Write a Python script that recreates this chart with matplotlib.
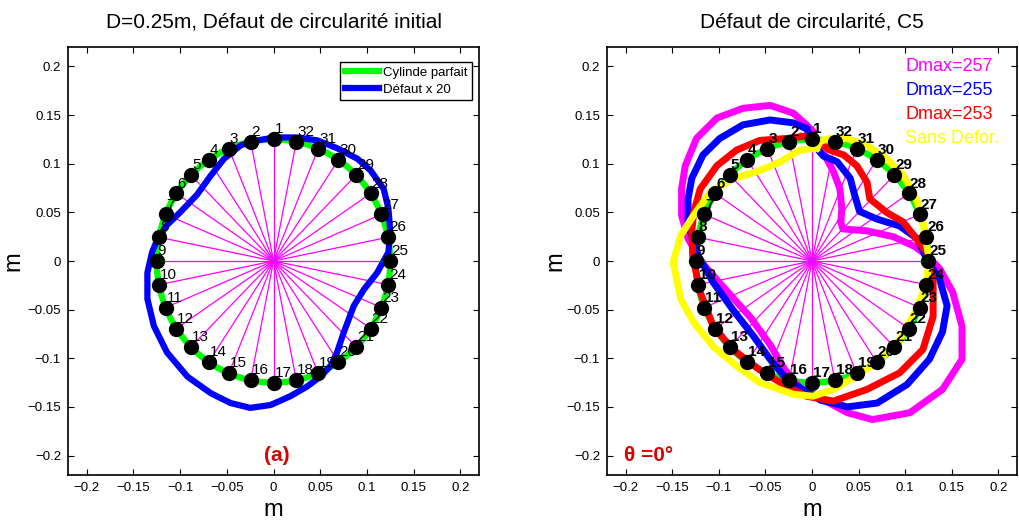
import matplotlib
matplotlib.use("Agg")
import matplotlib.pyplot as plt
import numpy as np

plt.rcParams['font.family'] = ['Liberation Sans', 'DejaVu Sans']

# -----------------------------
# Data
# -----------------------------
n_points = 32
radius = 0.125
point_labels = [str(i) for i in range(1, n_points + 1)]

ticks = [-0.2, -0.15, -0.1, -0.05, 0, 0.05, 0.1, 0.15, 0.2]
tick_labels = ['\u22120.2', '\u22120.15', '\u22120.1', '\u22120.05', '0',
               '0.05', '0.1', '0.15', '0.2']

# initial circularity defect (x 20)
defect_x = [0.001, 0.025, 0.047, 0.068, 0.090, 0.104, 0.118, 0.123, 0.125, 0.123,
            0.111, 0.097, 0.086, 0.075, 0.068, 0.061, 0.050, 0.036, 0.018, -0.003,
            -0.025, -0.046, -0.067, -0.092, -0.114, -0.128, -0.135, -0.135, -0.130,
            -0.124, -0.114, -0.100, -0.082, -0.067, -0.053, -0.035, -0.017]
defect_y = [0.127, 0.127, 0.124, 0.116, 0.105, 0.093, 0.074, 0.054, 0.030, 0.009,
            -0.012, -0.029, -0.046, -0.074, -0.094, -0.108, -0.119, -0.129, -0.139,
            -0.148, -0.151, -0.146, -0.136, -0.119, -0.094, -0.067, -0.039, -0.012,
            0.009, 0.023, 0.037, 0.050, 0.068, 0.088, 0.105, 0.119, 0.124]

# C5 deformed shapes
d257_x = [0.000, -0.006, -0.020, -0.045, -0.074, -0.102, -0.124, -0.136, -0.140, -0.140,
          -0.133, -0.117, -0.093, -0.066, -0.045, -0.029, -0.013, 0.005, 0.038, 0.065,
          0.105, 0.140, 0.161, 0.161, 0.151, 0.137, 0.123, 0.110, 0.087, 0.059,
          0.033, 0.031, 0.032, 0.030, 0.023, 0.014, 0.005]
d257_y = [0.134, 0.140, 0.152, 0.160, 0.157, 0.147, 0.126, 0.098, 0.074, 0.047,
          0.023, -0.003, -0.029, -0.058, -0.086, -0.112, -0.130, -0.139, -0.156, -0.163,
          -0.156, -0.132, -0.101, -0.067, -0.032, -0.008, 0.006, 0.015, 0.025, 0.031,
          0.033, 0.040, 0.054, 0.074, 0.092, 0.108, 0.123]

d255_x = [-0.006, -0.020, -0.045, -0.074, -0.099, -0.117, -0.129, -0.133, -0.133, -0.122,
          -0.106, -0.085, -0.063, -0.045, -0.027, -0.010, 0.009, 0.038, 0.070, 0.102,
          0.126, 0.140, 0.145, 0.137, 0.123, 0.113, 0.094, 0.070, 0.051, 0.046,
          0.041, 0.027, 0.012, 0.005]
d255_y = [0.136, 0.142, 0.145, 0.140, 0.126, 0.109, 0.085, 0.064, 0.038, 0.005,
          -0.022, -0.050, -0.077, -0.101, -0.122, -0.132, -0.143, -0.150, -0.146, -0.127,
          -0.101, -0.073, -0.046, -0.019, 0.002, 0.023, 0.036, 0.043, 0.051, 0.067,
          0.085, 0.102, 0.108, 0.116]

d253_x = [-0.010, -0.027, -0.056, -0.081, -0.102, -0.120, -0.127, -0.129, -0.128, -0.120,
          -0.106, -0.085, -0.056, -0.027, -0.006, 0.023, 0.059, 0.094, 0.119, 0.130,
          0.130, 0.126, 0.123, 0.112, 0.098, 0.080, 0.062, 0.059, 0.048, 0.034,
          0.019, 0.012, 0.001]
d253_y = [0.128, 0.126, 0.124, 0.114, 0.098, 0.074, 0.050, 0.030, 0.005, -0.032,
          -0.067, -0.091, -0.112, -0.129, -0.139, -0.144, -0.132, -0.115, -0.091, -0.057,
          -0.022, -0.001, 0.009, 0.023, 0.040, 0.050, 0.064, 0.081, 0.098, 0.109,
          0.114, 0.119, 0.126]

sans_x = [0.005, -0.013, -0.034, -0.059, -0.084, -0.109, -0.127, -0.141, -0.149, -0.141,
          -0.127, -0.106, -0.081, -0.056, -0.020, 0.001, 0.023, 0.048, 0.073, 0.094,
          0.112, 0.123, 0.126, 0.123, 0.119, 0.112, 0.098, 0.080, 0.059, 0.037,
          0.019, 0.009]
sans_y = [0.116, 0.114, 0.102, 0.092, 0.085, 0.071, 0.047, 0.026, -0.001, -0.039,
          -0.063, -0.088, -0.108, -0.125, -0.137, -0.139, -0.132, -0.118, -0.101, -0.081,
          -0.050, -0.022, 0.002, 0.016, 0.040, 0.064, 0.088, 0.105, 0.119, 0.126,
          0.126, 0.123]

right_curves = [
    (d257_x, d257_y, '#ff00ff', 'Dmax=257'),
    (d255_x, d255_y, '#0000ff', 'Dmax=255'),
    (d253_x, d253_y, '#ff0000', 'Dmax=253'),
    (sans_x, sans_y, '#ffff00', 'Sans Defor.'),
]

# -----------------------------
# Figure
# -----------------------------
W, H = 1019, 529
fig = plt.figure(figsize=(W / 100, H / 100), dpi=100)
ax1 = fig.add_axes([68 / W, 1 - 475 / H, 411 / W, 428 / H])
ax2 = fig.add_axes([607 / W, 1 - 475 / H, 410 / W, 428 / H])

ang = np.deg2rad(90 + np.arange(n_points) * 360.0 / n_points)
px = radius * np.cos(ang)
py = radius * np.sin(ang)
t = np.linspace(0, 2 * np.pi, 400)


def base(ax):
    for x, y in zip(px, py):
        ax.plot([0, x], [0, y], color='#ff00ff', lw=0.9, zorder=1)
    ax.plot(radius * np.cos(t), radius * np.sin(t), color='#00ff00', lw=4.5, zorder=2,
            label='Cylinde parfait')


def dots(ax, bold):
    ax.plot(px, py, 'o', color='black', ms=10, zorder=5)
    for x, y, s in zip(px, py, point_labels):
        ax.text(x + 0.001, y + 0.003, s, fontsize=11, ha='left', va='bottom',
                fontweight='bold' if bold else 'normal', zorder=6)


def style(ax, title, ylab_x):
    ax.set_xlim(-0.22, 0.22)
    ax.set_ylim(-0.22, 0.22)
    ax.set_xticks(ticks)
    ax.set_yticks(ticks)
    ax.set_xticklabels(tick_labels, fontsize=9.5)
    ax.set_yticklabels(tick_labels, fontsize=9.5)
    ax.tick_params(direction='in', top=True, right=True, length=4, width=0.8, pad=5)
    for sp in ax.spines.values():
        sp.set_linewidth(1.2)
    ax.set_title(title, fontsize=15, pad=14)
    ax.set_xlabel('m', fontsize=17, labelpad=4)
    ax.set_ylabel('m', fontsize=17)
    ax.yaxis.set_label_coords(ylab_x, 0.5)


# left panel
base(ax1)
ax1.plot(defect_x + defect_x[:1], defect_y + defect_y[:1], color='#0000ff', lw=4.5,
         solid_joinstyle='round', zorder=3, label='Défaut x 20')
dots(ax1, False)
style(ax1, 'D=0.25m, Défaut de circularité initial', -0.105)
leg = ax1.legend(loc='upper right', bbox_to_anchor=(0.983, 0.965), borderaxespad=0,
                 fontsize=9.5, handlelength=2.6, fancybox=False,
                 edgecolor='black', framealpha=1,
                 handletextpad=0.3, borderpad=0.35, labelspacing=0.35)
leg.get_frame().set_linewidth(1)
ax1.text(0.004, -0.2, '(a)', color='#dd0000', fontsize=15, fontweight='bold',
         ha='center', va='center')

# right panel
base(ax2)
for cx, cy, col, lab in right_curves:
    ax2.plot(cx + cx[:1], cy + cy[:1], color=col, lw=5, solid_joinstyle='round', zorder=3)
dots(ax2, True)
style(ax2, 'Défaut de circularité, C5', -0.1)
for i, (cx, cy, col, lab) in enumerate(right_curves):
    ax2.text(0.727, 0.954 - i * 0.056, lab, color=col, fontsize=13,
             transform=ax2.transAxes, ha='left', va='center')
ax2.text(-0.175, -0.2, '\u03b8 =0°', color='#dd0000', fontsize=15, fontweight='bold',
         ha='center', va='center')

fig.savefig('out.png', dpi=100)
